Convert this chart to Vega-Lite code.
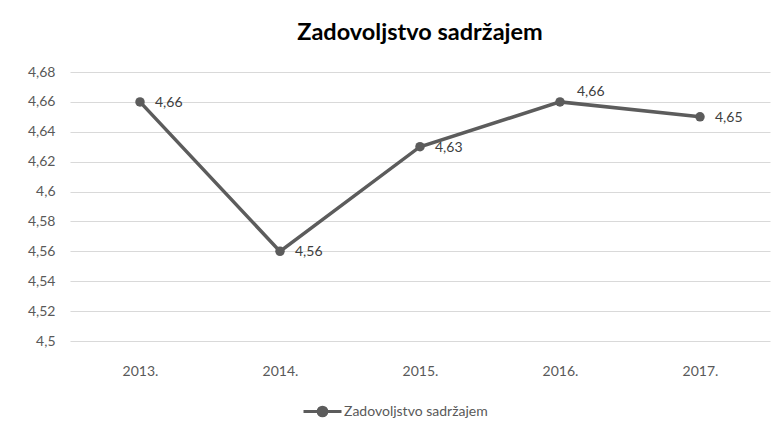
{
  "$schema": "https://vega.github.io/schema/vega-lite/v6.json",
  "width": 700,
  "height": 269,
  "autosize": "none",
  "padding": {"left": 70, "top": 72, "right": 9, "bottom": 94},
  "background": "white",
  "config": {
    "font": "Lato",
    "view": {"stroke": null}
  },
  "title": {
    "text": "Zadovoljstvo sadržajem",
    "font": "Lato",
    "fontSize": 23.5,
    "fontWeight": "bold",
    "color": "#000000",
    "anchor": "middle",
    "offset": 21
  },
  "data": {
    "values": [
      {"year": "2013.", "value": 4.66, "series": "Zadovoljstvo sadržajem"},
      {"year": "2014.", "value": 4.56, "series": "Zadovoljstvo sadržajem"},
      {"year": "2015.", "value": 4.63, "series": "Zadovoljstvo sadržajem"},
      {"year": "2016.", "value": 4.66, "series": "Zadovoljstvo sadržajem"},
      {"year": "2017.", "value": 4.65, "series": "Zadovoljstvo sadržajem"}
    ]
  },
  "encoding": {
    "x": {
      "field": "year",
      "type": "ordinal",
      "sort": null,
      "scale": {"type": "point", "padding": 0.5},
      "axis": {
        "title": null,
        "labelAngle": 0,
        "ticks": false,
        "domain": false,
        "labelPadding": 23,
        "labelFontSize": 14,
        "labelColor": "#595959",
        "labelFont": "Lato"
      }
    },
    "y": {
      "field": "value",
      "type": "quantitative",
      "scale": {"domain": [4.5, 4.68], "zero": false, "nice": false},
      "axis": {
        "title": null,
        "values": [4.5, 4.52, 4.54, 4.56, 4.58, 4.6, 4.62, 4.64, 4.66, 4.68],
        "labelExpr": "replace(format(datum.value, '.2~f'), '.', ',')",
        "ticks": false,
        "domain": false,
        "grid": true,
        "gridColor": "#d9d9d9",
        "gridWidth": 1,
        "labelPadding": 15,
        "labelFontSize": 14,
        "labelColor": "#595959",
        "labelFont": "Lato"
      }
    }
  },
  "layer": [
    {
      "mark": {"type": "line", "strokeWidth": 3.5},
      "encoding": {
        "color": {
          "field": "series",
          "type": "nominal",
          "scale": {"range": ["#5c5c5c"]},
          "legend": {
            "title": null,
            "orient": "none",
            "legendX": 232,
            "legendY": 319,
            "direction": "horizontal",
            "symbolType": "M-1,0H1M0.23,0A0.23,0.23,0,1,1,-0.23,0A0.23,0.23,0,1,1,0.23,0Z",
            "symbolSize": 1444,
            "symbolStrokeWidth": 3,
            "symbolFillColor": "#5c5c5c",
            "symbolStrokeColor": "#5c5c5c",
            "labelFontSize": 14,
            "labelColor": "#595959",
            "labelFont": "Lato",
            "labelOffset": 1
          }
        }
      }
    },
    {
      "mark": {"type": "point", "filled": true, "size": 90, "opacity": 1, "color": "#5c5c5c"},
      "encoding": {}
    },
    {
      "transform": [
        {"filter": "datum.year !== '2016.'"},
        {"calculate": "replace(format(datum.value, '.2f'), '.', ',')", "as": "label"}
      ],
      "mark": {"type": "text", "align": "left", "baseline": "middle", "dx": 15, "dy": 1, "fontSize": 14, "color": "#404040", "font": "Lato"},
      "encoding": {
        "text": {"field": "label", "type": "nominal"}
      }
    },
    {
      "transform": [
        {"filter": "datum.year === '2016.'"},
        {"calculate": "replace(format(datum.value, '.2f'), '.', ',')", "as": "label"}
      ],
      "mark": {"type": "text", "align": "left", "baseline": "middle", "dx": 17, "dy": -10, "fontSize": 14, "color": "#404040", "font": "Lato"},
      "encoding": {
        "text": {"field": "label", "type": "nominal"}
      }
    }
  ]
}
